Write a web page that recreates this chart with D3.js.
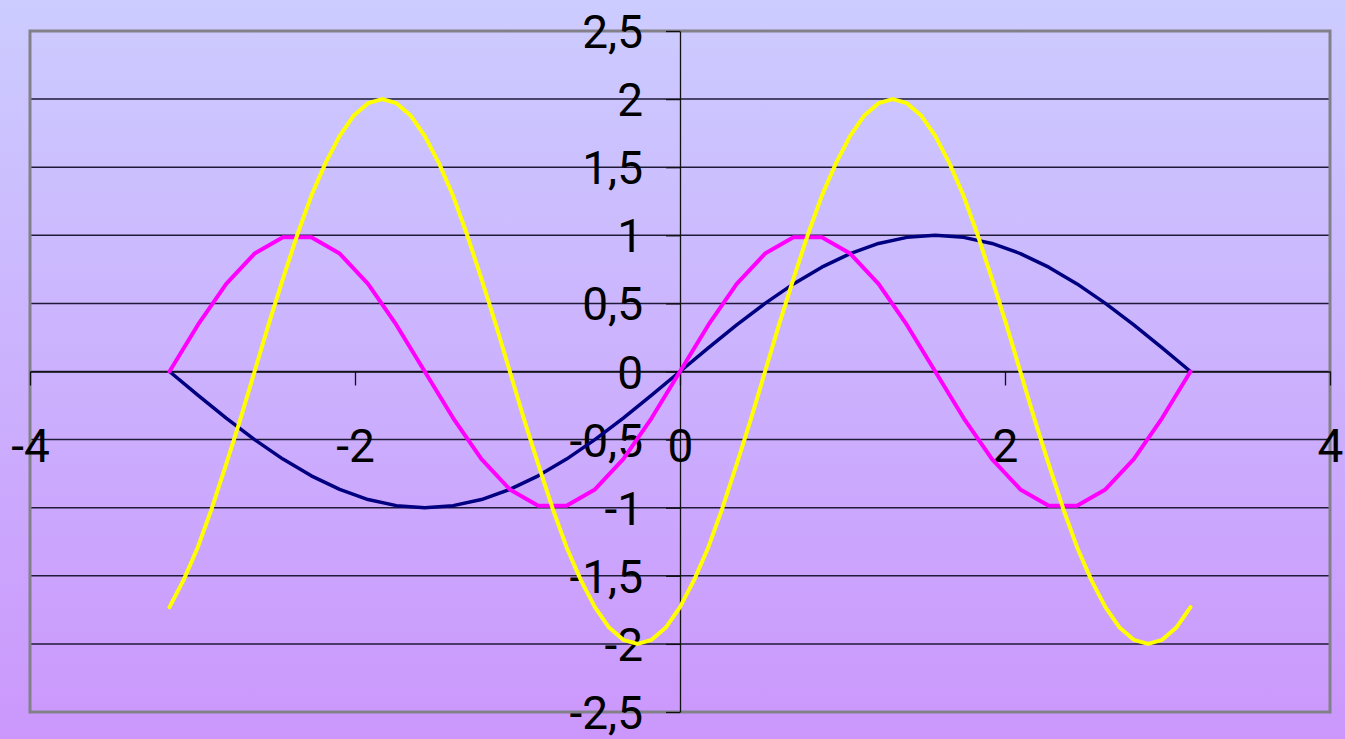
<!DOCTYPE html>
<html>
<head>
<meta charset="utf-8">
<script src="https://cdn.jsdelivr.net/npm/d3@7"></script>
<style>
  html, body { margin: 0; padding: 0; }
  body { width: 1345px; height: 739px; overflow: hidden; }
  .tick text { font-family: Roboto, "Liberation Sans", Arial, sans-serif; font-size: 46px; fill: #000; }
</style>
</head>
<body>
<div id="chart"></div>
<script>
// x in degrees, -180..180 (plotted in radians)
var degStep10 = [-180,-170,-160,-150,-140,-130,-120,-110,-100,-90,-80,-70,-60,-50,-40,-30,-20,-10,0,
                 10,20,30,40,50,60,70,80,90,100,110,120,130,140,150,160,170,180];
var sinValues = [0,-0.174,-0.342,-0.5,-0.643,-0.766,-0.866,-0.94,-0.985,-1,-0.985,-0.94,-0.866,-0.766,-0.643,-0.5,-0.342,-0.174,0,
                 0.174,0.342,0.5,0.643,0.766,0.866,0.94,0.985,1,0.985,0.94,0.866,0.766,0.643,0.5,0.342,0.174,0];
var sin2Values = [0,0.342,0.643,0.866,0.985,0.985,0.866,0.643,0.342,0,-0.342,-0.643,-0.866,-0.985,-0.985,-0.866,-0.643,-0.342,0,
                  0.342,0.643,0.866,0.985,0.985,0.866,0.643,0.342,0,-0.342,-0.643,-0.866,-0.985,-0.985,-0.866,-0.643,-0.342,0];
var degStep5 = [-180,-175,-170,-165,-160,-155,-150,-145,-140,-135,-130,-125,-120,-115,-110,-105,-100,-95,-90,-85,-80,-75,-70,-65,-60,-55,-50,-45,-40,-35,-30,-25,-20,-15,-10,-5,0,
                5,10,15,20,25,30,35,40,45,50,55,60,65,70,75,80,85,90,95,100,105,110,115,120,125,130,135,140,145,150,155,160,165,170,175,180];
var yellowValues = [-1.73,-1.53,-1.29,-1,-0.68,-0.35,0,0.35,0.68,1,1.29,1.53,1.73,1.88,1.97,2,1.97,1.88,1.73,1.53,1.29,1,0.68,0.35,0,-0.35,-0.68,-1,-1.29,-1.53,-1.73,-1.88,-1.97,-2,-1.97,-1.88,-1.73,
                    -1.53,-1.29,-1,-0.68,-0.35,0,0.35,0.68,1,1.29,1.53,1.73,1.88,1.97,2,1.97,1.88,1.73,1.53,1.29,1,0.68,0.35,0,-0.35,-0.68,-1,-1.29,-1.53,-1.73,-1.88,-1.97,-2,-1.97,-1.88,-1.73];
var xTicks = [-4,-2,0,2,4];
var yTicks = [-2.5,-2,-1.5,-1,-0.5,0,0.5,1,1.5,2,2.5];

var W = 1345, H = 739;
var plot = {left: 30, right: 1330, top: 31, bottom: 712};

var svg = d3.select("#chart").append("svg").attr("width", W).attr("height", H);

var grad = svg.append("defs").append("linearGradient").attr("id", "bg")
    .attr("x1", 0).attr("y1", 0).attr("x2", 0).attr("y2", 1);
grad.append("stop").attr("offset", "0%").attr("stop-color", "#ccccff");
grad.append("stop").attr("offset", "100%").attr("stop-color", "#cb97fc");
svg.append("rect").attr("width", W).attr("height", H).style("fill", "url(#bg)");

var x = d3.scaleLinear().domain([-4, 4]).range([plot.left, plot.right]);
var y = d3.scaleLinear().domain([-2.5, 2.5]).range([plot.bottom, plot.top]);

// gridlines
svg.append("g").selectAll("line").data(yTicks.slice(1, -1)).enter().append("line")
    .attr("x1", plot.left).attr("x2", plot.right)
    .attr("y1", function(d) { return y(d); }).attr("y2", function(d) { return y(d); })
    .style("stroke", "#1e1a38").style("stroke-width", 1.5);

svg.append("rect")
    .attr("x", plot.left).attr("y", plot.top)
    .attr("width", plot.right - plot.left).attr("height", plot.bottom - plot.top)
    .style("fill", "none").style("stroke", "#828088").style("stroke-width", 3);

function fmt(d) { return String(d).replace(".", ","); }

var yAxis = svg.append("g").attr("transform", "translate(" + x(0) + ",0)")
    .call(d3.axisLeft(y).tickValues(yTicks).tickFormat(fmt).tickSize(14).tickSizeOuter(0).tickPadding(23));
var xAxis = svg.append("g").attr("transform", "translate(0," + y(0) + ")")
    .call(d3.axisBottom(x).tickValues(xTicks).tickFormat(fmt).tickSize(14).tickSizeOuter(0).tickPadding(44));
svg.selectAll(".domain").style("stroke", "#111").style("stroke-width", 1.3);
svg.selectAll(".tick line").style("stroke", "#111").style("stroke-width", 1.3);
yAxis.selectAll("text").attr("dy", "0.36em");

function rad(d) { return d * Math.PI / 180; }

function drawSeries(degs, vals, color, width) {
    var line = d3.line()
        .x(function(d, i) { return x(rad(degs[i])); })
        .y(function(d) { return y(d); });
    svg.append("path").datum(vals).attr("d", line)
        .style("fill", "none").style("stroke", color).style("stroke-width", width)
        .style("stroke-linejoin", "round").style("stroke-linecap", "round");
}

drawSeries(degStep10, sinValues, "#000080", 3.5);
drawSeries(degStep10, sin2Values, "#ff00ff", 4);
drawSeries(degStep5, yellowValues, "#ffff00", 4);
</script>
</body>
</html>
